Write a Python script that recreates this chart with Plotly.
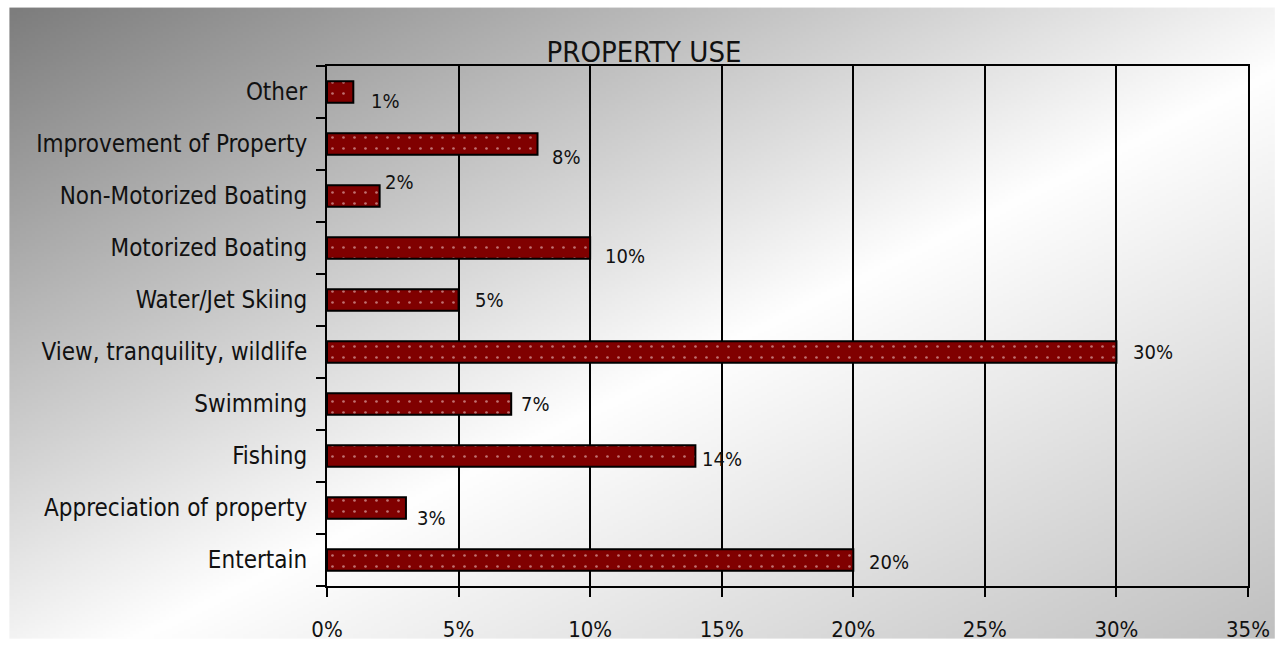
import base64
import struct
import zlib

import numpy as np
import plotly.graph_objects as go

# ---------------- data ----------------
categories = [
    "Entertain",
    "Appreciation of property",
    "Fishing",
    "Swimming",
    "View, tranquility, wildlife",
    "Water/Jet Skiing",
    "Motorized Boating",
    "Non-Motorized Boating",
    "Improvement of Property",
    "Other",
]
values = [20, 3, 14, 7, 30, 5, 10, 2, 8, 1]
x_tick_step = 5
x_max = 35
title_text = "PROPERTY USE"

# label placement offsets (pixels, style only)
label_dx = [14, 9, 5, 8, 15, 14, 13, 3, 12, 16]
label_dy = [2, 10, 3, 0, 0, 0, 8, -14, 13, 9]

# ---------------- layout geometry ----------------
W, H = 1282, 654
ML, MR, MT, MB = 327, 27, 66, 54
PW, PH = W - ML - MR, H - MT - MB
BG_LEFT, BG_TOP = 7, 6
FONT = "DejaVu Sans Condensed, DejaVu Sans, sans-serif"


def gradient_png(w, h):
    # diagonal grey -> white -> grey background
    xs = np.linspace(0, 1, w)[None, :]
    ys = np.linspace(0, 1, h)[:, None]
    t = (xs + ys) / 2.0
    stops_t = [0.0, 0.55, 1.0]
    stops_v = [125.0, 255.0, 192.0]
    v = np.interp(t, stops_t, stops_v).astype(np.uint8)
    raw = b"".join(b"\x00" + row.tobytes() for row in v)

    def chunk(tag, data):
        c = struct.pack(">I", len(data)) + tag + data
        return c + struct.pack(">I", zlib.crc32(tag + data) & 0xFFFFFFFF)

    png = b"\x89PNG\r\n\x1a\n"
    png += chunk(b"IHDR", struct.pack(">IIBBBBB", w, h, 8, 0, 0, 0, 0))
    png += chunk(b"IDAT", zlib.compress(raw, 9))
    png += chunk(b"IEND", b"")
    return "data:image/png;base64," + base64.b64encode(png).decode()


bg_src = gradient_png(425, 216)

fig = go.Figure()
fig.add_trace(
    go.Bar(
        x=values,
        y=categories,
        orientation="h",
        marker=dict(
            color="#800000",
            line=dict(color="black", width=2),
            pattern=dict(shape=".", fgcolor="#ffe4e4", bgcolor="#800000",
                         size=11, solidity=0.045),
        ),
        hoverinfo="skip",
    )
)

for v, c, dx, dy in zip(values, categories, label_dx, label_dy):
    fig.add_annotation(
        x=v, y=c, text=f"{v}%", showarrow=False,
        xanchor="left", yanchor="middle",
        xshift=dx, yshift=-dy,
        font=dict(family=FONT, size=20, color="#111111"),
    )

fig.update_layout(
    width=W, height=H,
    margin=dict(l=ML, r=MR, t=MT, b=MB, pad=0),
    paper_bgcolor="white",
    plot_bgcolor="rgba(0,0,0,0)",
    showlegend=False,
    bargap=0.59,
    font=dict(family=FONT, color="#111111"),
    title=dict(
        text=title_text,
        x=644 / W, xanchor="center", xref="container",
        y=1 - 52 / H, yanchor="middle", yref="container",
        font=dict(family=FONT, size=29, color="#111111"),
    ),
    images=[dict(
        source=bg_src, xref="paper", yref="paper",
        x=(BG_LEFT - ML) / PW, y=(H - MB - BG_TOP) / PH,
        sizex=(W - BG_LEFT) / PW, sizey=(H - BG_TOP) / PH,
        xanchor="left", yanchor="top", sizing="stretch", layer="below",
    )],
    xaxis=dict(
        range=[0, x_max], tickmode="linear", tick0=0, dtick=x_tick_step,
        ticksuffix="%",
        showgrid=True, gridcolor="black", gridwidth=2,
        showline=True, linecolor="black", linewidth=2, mirror=True,
        ticks="outside", ticklen=9, tickwidth=2, tickcolor="black",
        zeroline=False, ticklabelstandoff=14,
        tickfont=dict(family=FONT, size=22, color="#111111"),
        fixedrange=True,
    ),
    yaxis=dict(
        type="category", categoryorder="array", categoryarray=categories,
        showgrid=False,
        showline=True, linecolor="black", linewidth=2, mirror=True,
        ticks="outside", tickson="boundaries", ticklen=9, tickwidth=2,
        tickcolor="black", ticklabelstandoff=13,
        tickfont=dict(family=FONT, size=24, color="#111111"),
        fixedrange=True,
    ),
)

fig.write_html(
    "out.html",
    config={"displayModeBar": False},
    post_script=(
        "document.body.style.margin='0';"
        "document.documentElement.style.overflow='hidden';"
        "document.body.style.overflow='hidden';"
    ),
)
